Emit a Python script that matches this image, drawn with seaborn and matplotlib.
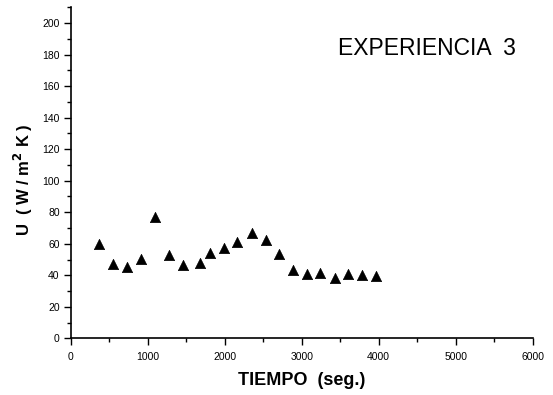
import matplotlib
matplotlib.use("Agg")
import matplotlib.pyplot as plt
import numpy as np
import pandas as pd
import seaborn as sns
from matplotlib.ticker import MultipleLocator

# U vs time, experiment 3
tiempo = [371, 553, 727, 913, 1090, 1277, 1455, 1683, 1809, 1991, 2164,
          2351, 2532, 2705, 2883, 3069, 3238, 3432, 3605, 3783, 3965]
u_val = [60, 47.2, 45.2, 50.2, 77.2, 53, 46.3, 48, 54, 57, 61.1,
         66.9, 62.4, 53.5, 43.4, 40.6, 41.3, 38.5, 40.6, 40.2, 39.7]

df = pd.DataFrame({"tiempo": tiempo, "U": u_val})

sns.set_style("ticks")
plt.rcParams["font.family"] = ["Liberation Sans", "DejaVu Sans"]
plt.rcParams["text.color"] = "black"
plt.rcParams["axes.labelcolor"] = "black"
plt.rcParams["xtick.color"] = "black"
plt.rcParams["ytick.color"] = "black"

fig = plt.figure(figsize=(5.53, 3.95), dpi=100)
ax = fig.add_axes([0.128, 0.1435, 0.835, 0.838])

sns.scatterplot(data=df, x="tiempo", y="U", marker="^", s=55, color="black",
                edgecolor="black", linewidth=0.5, ax=ax, legend=False)

ax.set_xlim(0, 6000)
ax.set_ylim(0, 210)
ax.xaxis.set_major_locator(MultipleLocator(1000))
ax.xaxis.set_minor_locator(MultipleLocator(500))
ax.yaxis.set_major_locator(MultipleLocator(20))
ax.yaxis.set_minor_locator(MultipleLocator(10))
ax.set_yticks(np.arange(0, 201, 20))
ax.tick_params(which="major", length=5, width=1, labelsize=7.5, pad=3)
ax.tick_params(axis="x", which="major", pad=5)
ax.tick_params(which="minor", length=3, width=1)
sns.despine(ax=ax)
for s in ("left", "bottom"):
    ax.spines[s].set_linewidth(1.2)
    ax.spines[s].set_color("black")

ax.set_xlabel("TIEMPO  (seg.)", fontsize=13, fontweight="bold", labelpad=7)
ax.set_ylabel("U  ( W / m$^{\\mathbf{2}}$ K )", fontsize=12, fontweight="bold", labelpad=5)
ax.yaxis.set_label_coords(-0.078, 0.48)
ax.text(4634, 184, "EXPERIENCIA  3", fontsize=16.5, ha="center", va="center")

fig.savefig("out.png", dpi=100)
